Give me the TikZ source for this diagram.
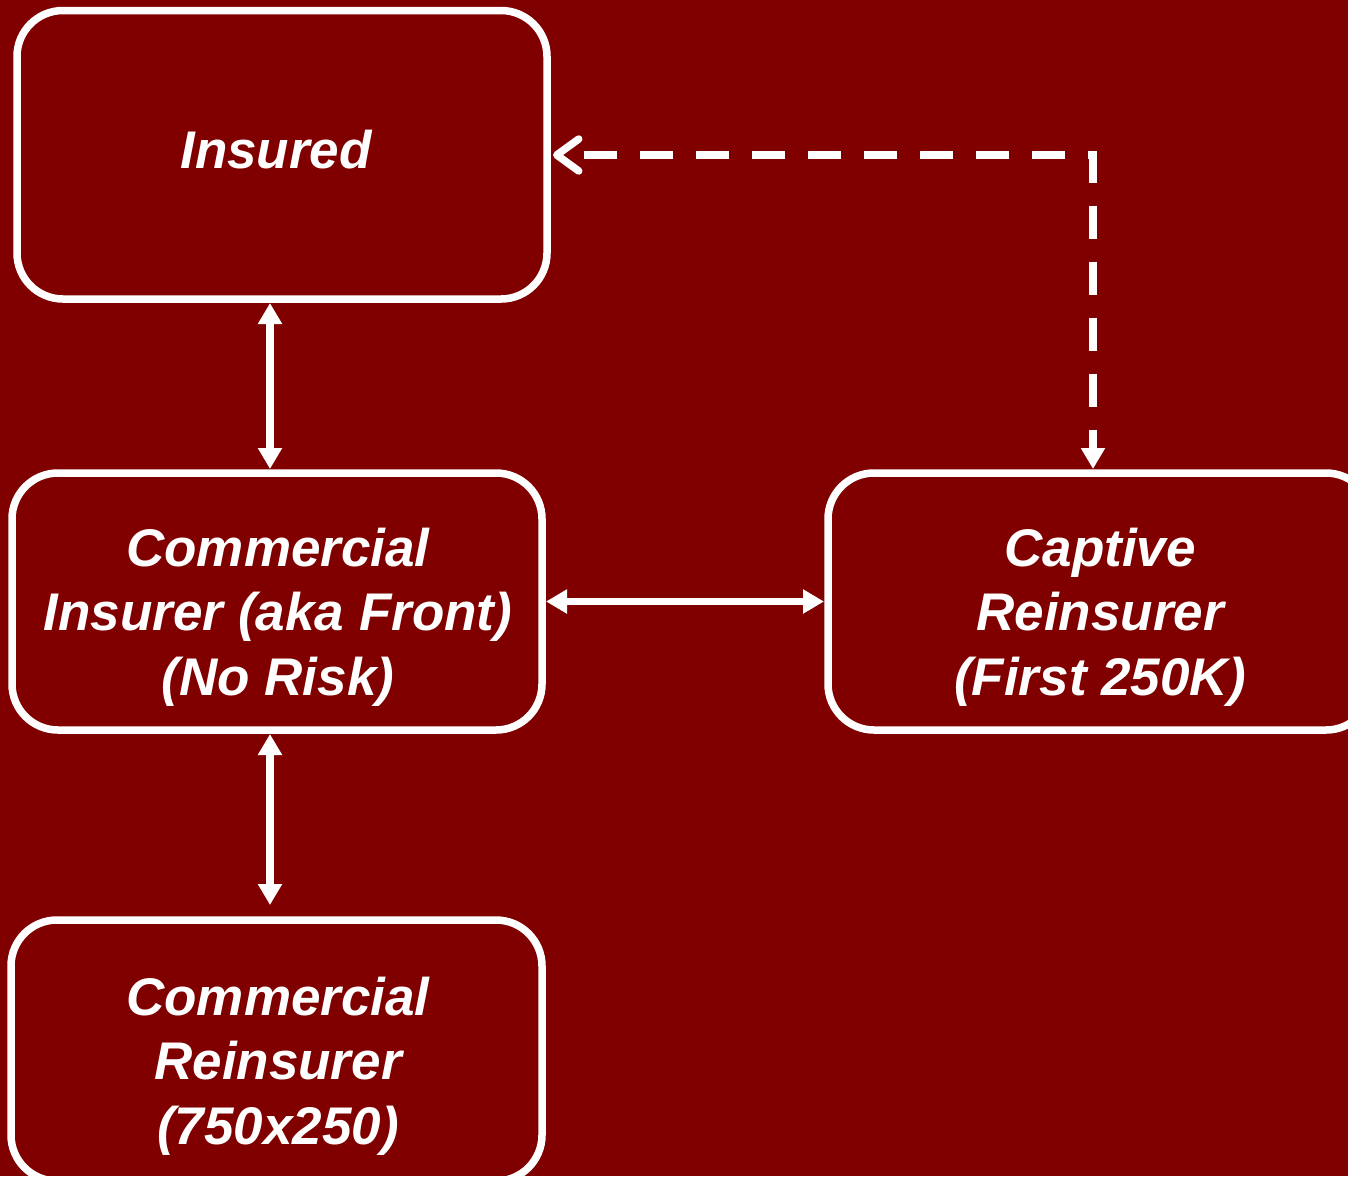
\documentclass[tikz,border=0pt]{standalone}
\usepackage{fontspec}
\setmainfont{Liberation Sans}
\usetikzlibrary{arrows.meta,calc}
\definecolor{bgred}{HTML}{800000}

\tikzset{
  box/.style={draw=white, line width=7.5pt, rounded corners=46pt,
    rectangle, inner sep=0pt, outer sep=0pt},
  txt/.style={text=white, font=\fontsize{53}{64.5}\selectfont\bfseries\itshape,
    align=center, inner sep=0pt},
  link/.style={draw=white, line width=7.5pt,
    {Triangle[width=23pt,length=21pt]}-{Triangle[width=23pt,length=21pt]}},
  dashlink/.style={draw=white, line width=7.5pt, dash pattern=on 33pt off 23pt,
    dash phase=33pt,
    {Straight Barb[width=32pt,length=22pt,line cap=round,line join=round]}-{Triangle[width=23pt,length=21pt]}},
}

\begin{document}
\begin{tikzpicture}[x=1pt,y=-1pt]
  % page and background
  \useasboundingbox (0,0) rectangle (1348,1176);
  \fill[bgred] (0,0) rectangle (1348,1176);
  \clip (0,0) rectangle (1348,1176);

  % boxes
  \node[box, minimum width=530pt, minimum height=288.5pt] (insured) at (282,154.75) {};
  \node[box, minimum width=530pt, minimum height=257pt] (front) at (277,601.5) {};
  \node[box, minimum width=544pt, minimum height=257pt] (captive) at (1100,601.5) {};
  \node[box, minimum width=531pt, minimum height=261pt] (reins) at (276.5,1050.5) {};

  % labels
  \node[txt] (insuredtxt) at (276,150) {Insured};
  \node[txt] (fronttxt) at (278,617) {Commercial\\Insurer (aka Front)\\(No Risk)};
  \node[txt] (captivetxt) at (1100,617) {Captive\\Reinsurer\\(First 250K)};
  \node[txt] (reinstxt) at (278,1066) {Commercial\\Reinsurer\\(750x250)};

  % connectors
  \coordinate (a1) at (270,303);
  \coordinate (a2) at (270,469);
  \draw[link] (a1) -- (a2);

  \coordinate (b1) at (270,734);
  \coordinate (b2) at (270,905);
  \draw[link] (b1) -- (b2);

  \draw[link] ($(front.east)+(4,0)$) -- ($(captive.west)+(-4,0)$);

  \coordinate (corner) at (1093,155);
  \coordinate (c1) at (553,155);
  \coordinate (c2) at (1093,469);
  \draw[dashlink] (c1) -- (corner) -- (c2);
\end{tikzpicture}
\end{document}
